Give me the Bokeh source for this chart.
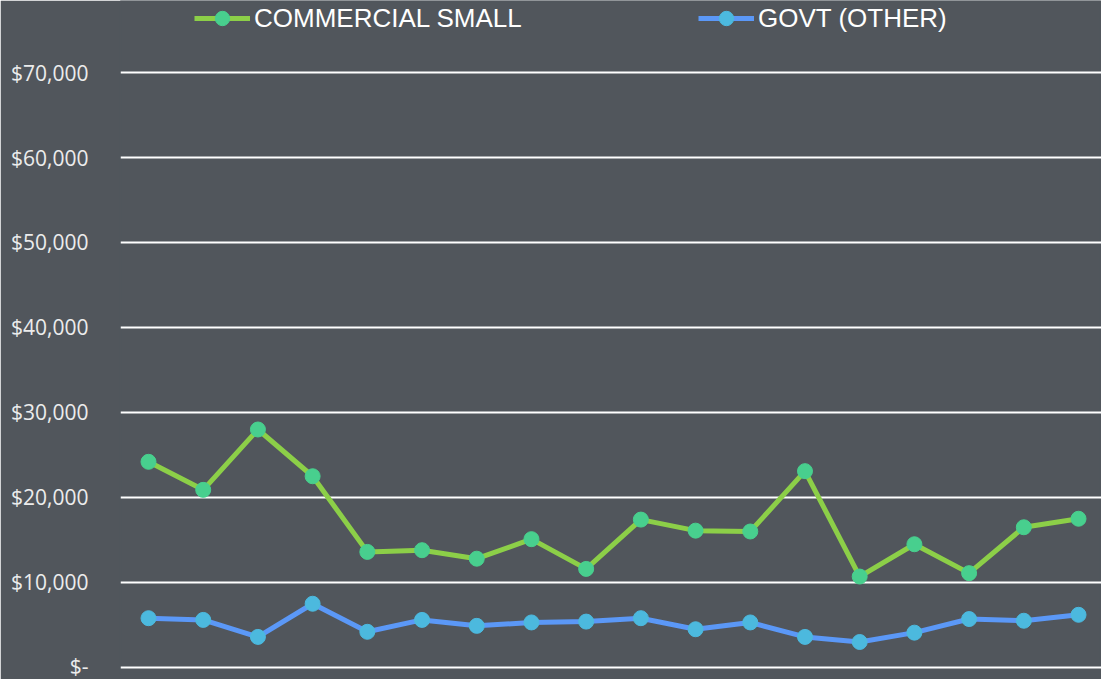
from bokeh.plotting import figure
from bokeh.models import Legend, LegendItem, FixedTicker, Range1d
from bokeh.embed import file_html
from bokeh.resources import INLINE

# ---- data ----
periods = list(range(18))
commercial_small = [24200, 20900, 28000, 22500, 13600, 13800, 12800, 15100, 11600,
                    17400, 16100, 16000, 23100, 10700, 14500, 11100, 16500, 17500]
govt_other = [5800, 5600, 3600, 7500, 4200, 5600, 4900, 5300, 5400,
              5800, 4500, 5300, 3600, 3000, 4100, 5700, 5500, 6200]
series_names = ["COMMERCIAL SMALL", "GOVT (OTHER)"]
y_ticks = [0, 10000, 20000, 30000, 40000, 50000, 60000, 70000]
y_tick_labels = ["$-", "$10,000", "$20,000", "$30,000", "$40,000",
                 "$50,000", "$60,000", "$70,000"]

BG = "#51565c"

p = figure(width=1101, height=679, output_backend="svg", toolbar_location=None,
           x_range=Range1d(-0.512, 17.42), y_range=Range1d(-706, 78353),
           min_border_left=120, min_border_right=0, min_border_top=1,
           min_border_bottom=6)
p.background_fill_color = BG
p.border_fill_color = BG
p.outline_line_color = BG
p.outline_line_width = 2

p.xaxis.visible = False
p.xgrid.visible = False

p.yaxis.ticker = FixedTicker(ticks=y_ticks)
p.yaxis.major_label_overrides = dict(zip(y_ticks, y_tick_labels))
p.yaxis.axis_line_color = None
p.yaxis.major_tick_line_color = None
p.yaxis.minor_tick_line_color = None
p.yaxis.major_label_standoff = 26
p.yaxis.major_label_text_font = "Open Sans"
p.yaxis.major_label_text_font_size = "21px"
p.yaxis.major_label_text_color = "#ececec"

p.ygrid.grid_line_color = "#ffffff"
p.ygrid.grid_line_width = 2

l1 = p.line(periods, commercial_small, line_color="#8ccf48", line_width=5)
s1 = p.scatter(periods, commercial_small, size=15, fill_color="#48cf8e",
               line_color="#48cf8e")
l2 = p.line(periods, govt_other, line_color="#5b98f7", line_width=5)
s2 = p.scatter(periods, govt_other, size=15, fill_color="#4cb9de",
               line_color="#4cb9de")

def make_legend(label, renderers, x):
    lg = Legend(items=[LegendItem(label=label, renderers=renderers)],
                location=(x, 637), orientation="horizontal",
                glyph_width=56, glyph_height=36, label_standoff=4,
                padding=0, margin=0, border_line_color=None,
                background_fill_alpha=0,
                label_text_font="Liberation Sans", label_text_font_size="26px",
                label_text_color="#ffffff")
    return lg

p.add_layout(make_legend(series_names[0], [l1, s1], 74))
p.add_layout(make_legend(series_names[1], [l2, s2], 578))

open("out.html", "w").write(file_html(p, INLINE))
